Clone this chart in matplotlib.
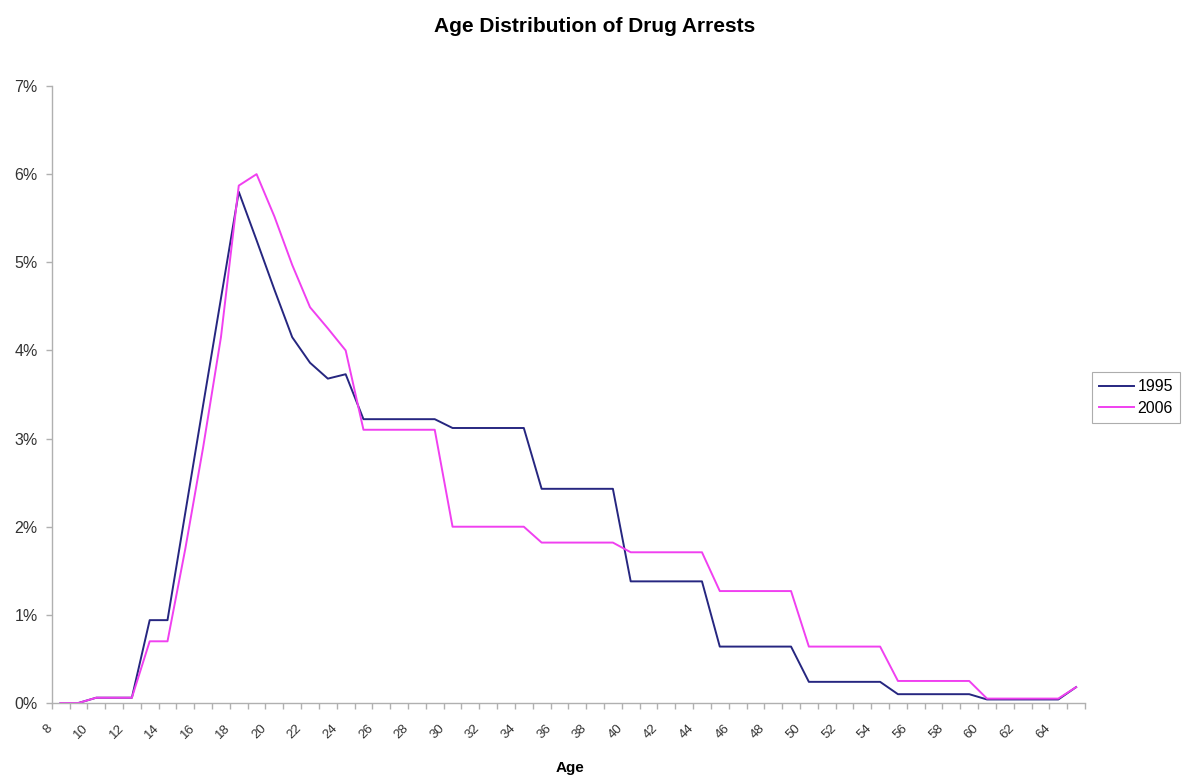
import matplotlib.pyplot as plt
import matplotlib.transforms as mtransforms
from matplotlib.ticker import FuncFormatter, MultipleLocator

plt.rcParams['font.family'] = ['Liberation Sans', 'DejaVu Sans']

# Share of all drug arrests at each age (percent)
ages = list(range(8, 66))
arrests_1995 = [
    0.00, 0.00, 0.06, 0.06, 0.06, 0.94, 0.94, 2.16, 3.38, 4.59,
    5.80, 5.25, 4.69, 4.15, 3.86, 3.68, 3.73,
    3.22, 3.22, 3.22, 3.22, 3.22,
    3.12, 3.12, 3.12, 3.12, 3.12,
    2.43, 2.43, 2.43, 2.43, 2.43,
    1.38, 1.38, 1.38, 1.38, 1.38,
    0.64, 0.64, 0.64, 0.64, 0.64,
    0.24, 0.24, 0.24, 0.24, 0.24,
    0.10, 0.10, 0.10, 0.10, 0.10,
    0.04, 0.04, 0.04, 0.04, 0.04,
    0.18,
]
arrests_2006 = [
    0.00, 0.00, 0.06, 0.06, 0.06, 0.70, 0.70, 1.75, 2.90, 4.15,
    5.87, 6.00, 5.52, 4.97, 4.49, 4.25, 4.00,
    3.10, 3.10, 3.10, 3.10, 3.10,
    2.00, 2.00, 2.00, 2.00, 2.00,
    1.82, 1.82, 1.82, 1.82, 1.82,
    1.71, 1.71, 1.71, 1.71, 1.71,
    1.27, 1.27, 1.27, 1.27, 1.27,
    0.64, 0.64, 0.64, 0.64, 0.64,
    0.25, 0.25, 0.25, 0.25, 0.25,
    0.05, 0.05, 0.05, 0.05, 0.05,
    0.18,
]
age_labels = list(range(8, 65, 2))

W, H = 1203, 779
fig = plt.figure(figsize=(W / 100, H / 100), dpi=100)
ax = fig.add_axes([51.7 / W, 1 - 703 / H, (1085 - 51.7) / W, (703 - 86) / H])

ax.plot(ages, arrests_1995, color='#262680', lw=1.4, label='1995')
ax.plot(ages, arrests_2006, color='#f040f0', lw=1.4, label='2006')

ax.set_xlim(7.5, 65.5)
ax.set_ylim(0, 7)

for side in ('top', 'right'):
    ax.spines[side].set_visible(False)
for side in ('left', 'bottom'):
    ax.spines[side].set_color('#b0b0b0')
    ax.spines[side].set_linewidth(1.0)

# y axis: whole percents
ax.yaxis.set_major_locator(MultipleLocator(1))
ax.yaxis.set_major_formatter(FuncFormatter(lambda v, p: f'{v:.0f}%'))
ax.tick_params(axis='y', length=4, width=1, color='#b0b0b0', pad=6,
               labelsize=11.5, labelcolor='#333333')

# x axis: tick marks between categories, labels on every other age
ax.set_xticks(age_labels)
ax.set_xticklabels([str(a) for a in age_labels], rotation=45, ha='right',
                   va='center', rotation_mode='anchor')
ax.set_xticks([a - 0.5 for a in ages] + [65.5], minor=True)
ax.tick_params(axis='x', which='major', length=0, pad=17, labelsize=9.5,
               labelcolor='#333333')
ax.tick_params(axis='x', which='minor', length=4, width=1, color='#b0b0b0')
shift = mtransforms.ScaledTranslation(-10 / 100, 0, fig.dpi_scale_trans)
for lbl in ax.get_xticklabels():
    lbl.set_transform(lbl.get_transform() + shift)

ax.set_xlabel('Age', fontsize=11, fontweight='bold', va='center')
ax.xaxis.set_label_coords(0.502, -0.1054)

fig.text(595 / W, 1 - 27 / H, 'Age Distribution of Drug Arrests', ha='center',
         va='center', fontsize=15, fontweight='bold')

leg = ax.legend(loc='upper left', bbox_to_anchor=(1092 / W, 1 - 372 / H),
                bbox_transform=fig.transFigure, borderaxespad=0, fontsize=11.5,
                handlelength=2.2, handletextpad=0.2, labelspacing=0.4,
                borderpad=0.45, fancybox=False, frameon=True)
leg.get_frame().set_edgecolor('#999999')
leg.get_frame().set_linewidth(0.8)

fig.savefig('out.png', dpi=100)
